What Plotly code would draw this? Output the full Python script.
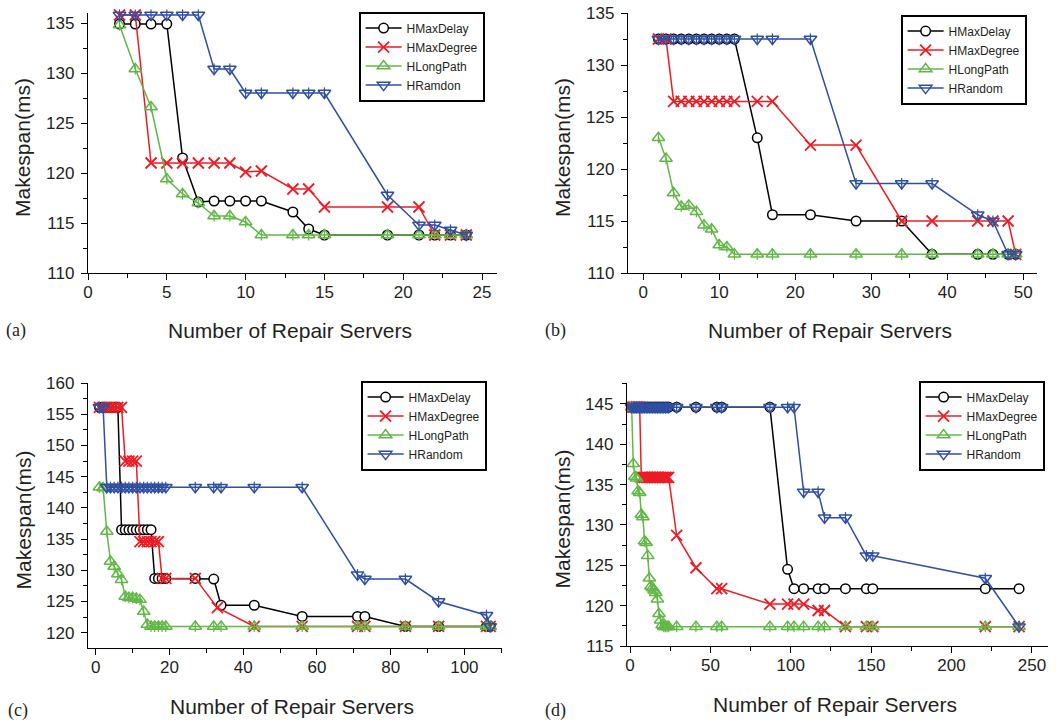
import plotly.graph_objects as go

# ---------------- data ----------------
SERIES = ["HMaxDelay", "HMaxDegree", "HLongPath", "HRandom"]
SERIES_A = ["HMaxDelay", "HMaxDegree", "HLongPath", "HRamdon"]

# panel (a)
A_X = [2, 3, 4, 5, 6, 7, 8, 9, 10, 11, 13, 14, 15, 19, 21, 22, 23, 24]
A_MAXDELAY = [134.9, 134.9, 134.9, 134.9, 121.5, 117.1, 117.2, 117.2, 117.2, 117.2, 116.1, 114.4,
              113.8, 113.8, 113.8, 113.8, 113.8, 113.8]
A_MAXDEGREE = [135.8, 135.8, 121.0, 121.0, 121.0, 121.0, 121.0, 121.0, 120.1, 120.2, 118.4, 118.4,
               116.6, 116.6, 116.6, 113.8, 113.8, 113.8]
A_LONGPATH = [134.8, 130.4, 126.6, 119.4, 117.9, 117.0, 115.7, 115.7, 115.1, 113.8, 113.8, 113.8,
              113.8, 113.8, 113.8, 113.8, 113.8, 113.8]
A_RANDOM = [135.8, 135.8, 135.8, 135.8, 135.8, 135.8, 130.4, 130.4, 128.0, 128.0, 128.0, 128.0,
            128.0, 117.8, 114.8, 114.8, 114.3, 113.8]

# panel (b)
B_X = [2, 3, 4, 5, 6, 7, 8, 9, 10, 11, 12, 15, 17, 22, 28, 34, 38, 44, 46, 48, 49]
B_MAXDELAY = [132.5, 132.5, 132.5, 132.5, 132.5, 132.5, 132.5, 132.5, 132.5, 132.5, 132.5,
              123.0, 115.6, 115.6, 115.0, 115.0, 111.8, 111.8, 111.8, 111.8, 111.8]
B_MAXDEGREE = [132.5, 132.5, 126.5, 126.5, 126.5, 126.5, 126.5, 126.5, 126.5, 126.5, 126.5,
               126.5, 126.5, 122.3, 122.3, 115.0, 115.0, 115.0, 115.0, 115.0, 111.8]
B_LONGPATH = [123.0, 121.0, 117.7, 116.4, 116.5, 115.9, 114.6, 114.2, 112.7, 112.5, 111.8,
              111.8, 111.8, 111.8, 111.8, 111.8, 111.8, 111.8, 111.8, 111.8, 111.8]
B_RANDOM = [132.5, 132.5, 132.5, 132.5, 132.5, 132.5, 132.5, 132.5, 132.5, 132.5, 132.5,
            132.5, 132.5, 132.5, 118.6, 118.6, 118.6, 115.6, 115.0, 111.8, 111.8]

# panel (c)
C_X = [1, 2, 3, 4, 5, 6, 7, 8, 9, 10, 11, 12, 13, 14, 15, 16, 17, 18, 19,
       27, 32, 34, 43, 56, 71, 73, 84, 93, 106, 107]
C_X_DEG = [1, 2, 3, 4, 5, 6, 7, 8, 9, 10, 11, 12, 13, 14, 15, 16, 17, 18, 19,
           27, 33, 43, 56, 71, 73, 84, 93, 106, 107]
C_MAXDELAY = [156.1, 156.1, 156.1, 156.1, 156.1, 156.1, 136.5, 136.5, 136.5, 136.5, 136.5, 136.5,
              136.5, 136.5, 136.5, 128.7, 128.7, 128.7, 128.7, 128.7, 128.6, 124.4, 124.4, 122.6,
              122.6, 122.6, 121.0, 121.0, 121.0, 121.0]
C_MAXDEGREE = [156.1, 156.1, 156.1, 156.1, 156.1, 156.1, 156.1, 147.5, 147.5, 147.5, 147.5, 134.6,
               134.6, 134.6, 134.6, 134.6, 134.6, 128.7, 128.7, 128.7, 124.0, 121.0, 121.0, 121.0,
               121.0, 121.0, 121.0, 121.0, 121.0]
C_LONGPATH = [143.3, 143.2, 136.2, 131.4, 130.6, 129.4, 128.5, 125.8, 125.6, 125.6, 125.5, 125.3,
              123.4, 121.3, 121.0, 121.0, 121.0, 121.0, 121.0, 121.0, 121.0, 121.0, 121.0, 121.0,
              121.0, 121.0, 121.0, 121.0, 121.0, 121.0]
C_RANDOM = [156.1, 156.1, 143.3, 143.3, 143.3, 143.3, 143.3, 143.3, 143.3, 143.3, 143.3, 143.3,
            143.3, 143.3, 143.3, 143.3, 143.3, 143.3, 143.3, 143.3, 143.3, 143.3, 143.3, 143.3,
            129.3, 128.6, 128.6, 125.0, 122.8, 121.0]

# panel (d)
D_X = [1, 2, 3, 4, 5, 6, 7, 8, 9, 10, 11, 12, 13, 14, 15, 16, 17, 18, 19, 20, 21, 22, 23, 24,
       29, 41, 54, 57, 87, 98, 102, 108, 117, 121, 134, 147, 151, 221, 242]
D_MAXDELAY = [144.6, 144.6, 144.6, 144.6, 144.6, 144.6, 144.6, 144.6, 144.6, 144.6,
              144.6, 144.6, 144.6, 144.6, 144.6, 144.6, 144.6, 144.6, 144.6, 144.6,
              144.6, 144.6, 144.6, 144.6, 144.6, 144.6, 144.6, 144.6, 144.6, 124.5,
              122.1, 122.1, 122.1, 122.1, 122.1, 122.1, 122.1, 122.1, 122.1]
D_MAXDEGREE = [144.6, 144.6, 144.6, 144.6, 144.6, 144.6, 135.9, 135.9, 135.9, 135.9, 135.9, 135.9,
               135.9, 135.9, 135.9, 135.9, 135.9, 135.9, 135.9, 135.9, 135.9, 135.9, 135.9, 135.9,
               128.7, 124.7, 122.1, 122.1, 120.2, 120.2, 120.2, 120.2, 119.4, 119.4, 117.4, 117.4,
               117.4, 117.4, 117.4]
D_LONGPATH = [144.6, 137.6, 136.0, 135.8, 134.2, 134.0, 131.3, 131.0, 128.0, 127.8, 126.2, 123.4,
              122.4, 122.2, 121.9, 121.6, 120.8, 119.0, 118.2, 117.6, 117.4, 117.4, 117.4, 117.4,
              117.4, 117.4, 117.4, 117.4, 117.4, 117.4, 117.4, 117.4, 117.4, 117.4, 117.4, 117.4,
              117.4, 117.4, 117.4]
D_RANDOM = [144.6, 144.6, 144.6, 144.6, 144.6, 144.6, 144.6, 144.6, 144.6, 144.6, 144.6, 144.6,
            144.6, 144.6, 144.6, 144.6, 144.6, 144.6, 144.6, 144.6, 144.6, 144.6, 144.6, 144.6,
            144.6, 144.6, 144.6, 144.6, 144.6, 144.6, 144.6, 134.1, 134.1, 130.9, 130.9, 126.2,
            126.2, 123.4, 117.4]

# ---------------- styling ----------------
W, H = 1057, 723
FONT = "Liberation Sans, Arial, Helvetica, sans-serif"
SERIF = "Liberation Serif, Times New Roman, serif"
COLORS = ["#000000", "#ED1C24", "#62B846", "#2E4FA2"]
TXT = "#231f20"

PANELS = [
    dict(letter="(a)", names=SERIES_A,
         xs=[A_X, A_X, A_X, A_X], ys=[A_MAXDELAY, A_MAXDEGREE, A_LONGPATH, A_RANDOM],
         px=(88, 497), py=(13, 273), xr=[0, 25.95], yr=[110, 136],
         xdt=5, xmn=2.5, leg=(359, 12), letter_pos=(4, 331)),
    dict(letter="(b)", names=SERIES,
         xs=[B_X, B_X, B_X, B_X], ys=[B_MAXDELAY, B_MAXDEGREE, B_LONGPATH, B_RANDOM],
         px=(628, 1037), py=(13, 273), xr=[-2, 51.8], yr=[110, 135],
         xdt=10, xmn=5, leg=(901, 15), letter_pos=(543, 331)),
    dict(letter="(c)", names=SERIES,
         xs=[C_X, C_X_DEG, C_X, C_X], ys=[C_MAXDELAY, C_MAXDEGREE, C_LONGPATH, C_RANDOM],
         px=(88, 502), py=(383, 648), xr=[-2.1, 110.2], yr=[117.55, 160],
         xdt=20, xmn=10, leg=(361, 381), letter_pos=(6, 710)),
    dict(letter="(d)", names=SERIES,
         xs=[D_X, D_X, D_X, D_X], ys=[D_MAXDELAY, D_MAXDEGREE, D_LONGPATH, D_RANDOM],
         px=(627, 1048), py=(383, 646), xr=[-1.9, 260], yr=[115, 147.6],
         xdt=50, xmn=25, leg=(919, 381), letter_pos=(543, 710)),
]

MARKERS = [
    dict(symbol="circle", size=9.5, color="white", line=dict(color=COLORS[0], width=1.5)),
    dict(symbol="x-thin-open", size=11, color=COLORS[1], line=dict(color=COLORS[1], width=1.8)),
    dict(symbol="triangle-up-open", size=11, color=COLORS[2], line=dict(color=COLORS[2], width=1.5)),
    dict(symbol="triangle-down-open", size=11, color=COLORS[3], line=dict(color=COLORS[3], width=1.5)),
]

fig = go.Figure()
layout = dict(width=W, height=H, margin=dict(l=0, r=0, t=0, b=0, autoexpand=False),
              paper_bgcolor="white", plot_bgcolor="white", showlegend=True,
              font=dict(family=FONT, color=TXT))
annotations = []

for i, p in enumerate(PANELS):
    k = "" if i == 0 else str(i + 1)
    xa, ya = "x" + k, "y" + k
    leg = "legend" + k
    for s in range(4):
        fig.add_trace(go.Scatter(
            x=p["xs"][s], y=p["ys"][s], name=p["names"][s], mode="lines+markers",
            xaxis=xa, yaxis=ya, legend=leg,
            line=dict(color=COLORS[s], width=1.5),
            marker=MARKERS[s], cliponaxis=False))
        if s >= 2:
            fig.add_trace(go.Scatter(
                x=p["xs"][s], y=p["ys"][s], mode="markers", showlegend=False,
                xaxis=xa, yaxis=ya, legend=leg, hoverinfo="skip",
                marker=dict(symbol="line-ns-open", size=8, color=COLORS[s],
                            line=dict(color=COLORS[s], width=1.2)), cliponaxis=False))
    axcommon = dict(showline=True, linecolor="black", linewidth=1.4, ticks="outside",
                    ticklen=6, tickwidth=1.3, tickcolor="black", showgrid=False,
                    zeroline=False, automargin=False,
                    tickfont=dict(size=17, family=FONT, color=TXT))
    layout["xaxis" + k] = dict(axcommon, domain=[p["px"][0] / W, p["px"][1] / W],
                               range=p["xr"], anchor=ya, tick0=0, dtick=p["xdt"],
                               ticklabelstandoff=-3,
                               minor=dict(dtick=p["xmn"], tick0=0, ticks="outside", ticklen=4,
                                          tickwidth=1.2, tickcolor="black"))
    layout["yaxis" + k] = dict(axcommon, domain=[1 - p["py"][1] / H, 1 - p["py"][0] / H],
                               range=p["yr"], anchor=xa, tick0=0, dtick=5,
                               ticklabelstandoff=3,
                               minor=dict(dtick=2.5, tick0=0, ticks="outside", ticklen=4,
                                          tickwidth=1.2, tickcolor="black"))
    layout[leg] = dict(x=p["leg"][0] / W, y=1 - p["leg"][1] / H, xref="paper", yref="paper",
                       xanchor="left", yanchor="top", bgcolor="white", bordercolor="black",
                       borderwidth=1.6, font=dict(size=12, family=FONT, color=TXT),
                       tracegroupgap=0, itemwidth=36)
    cx = (p["px"][0] + p["px"][1]) / 2
    cy = (p["py"][0] + p["py"][1]) / 2
    annotations.append(dict(text="Number of Repair Servers", x=(cx - 3) / W,
                            y=1 - (p["py"][1] + 58) / H, xref="paper", yref="paper",
                            showarrow=False, xanchor="center", yanchor="middle",
                            font=dict(size=21, family=FONT, color=TXT)))
    annotations.append(dict(text="Makespan(ms)", x=(p["px"][0] - 65) / W,
                            y=1 - (cy + 5) / H, xref="paper", yref="paper", textangle=-90,
                            showarrow=False, xanchor="center", yanchor="middle",
                            font=dict(size=21, family=FONT, color=TXT)))
    annotations.append(dict(text=p["letter"], x=p["letter_pos"][0] / W,
                            y=1 - p["letter_pos"][1] / H, xref="paper", yref="paper",
                            showarrow=False, xanchor="left", yanchor="middle",
                            font=dict(size=18, family=SERIF, color=TXT)))

layout["annotations"] = annotations
fig.update_layout(**layout)
fig.write_html("out.html", config={"displayModeBar": False},
               post_script="document.body.style.margin='0';document.body.style.overflow='hidden';")
